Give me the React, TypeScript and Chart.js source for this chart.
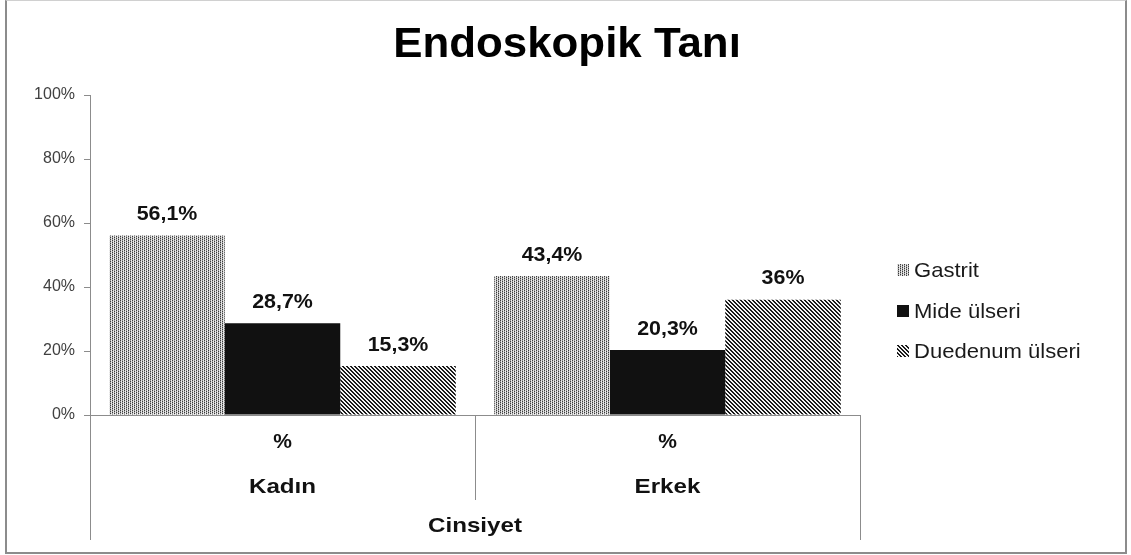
import React, { useEffect, useRef } from "react";
import { Chart, registerables } from "chart.js";

Chart.register(...registerables);

const chartTitle = "Endoskopik Tanı";
const categories = ["Kadın", "Erkek"];
const subLabel = "%";
const axisTitle = "Cinsiyet";
const seriesNames = ["Gastrit", "Mide ülseri", "Duedenum ülseri"];
const gastrit = [56.1, 43.4];
const mideUlseri = [28.7, 20.3];
const duedenumUlseri = [15.3, 36];
const yTicks = [0, 20, 40, 60, 80, 100];

const FONT = "'Liberation Sans', Arial, sans-serif";

function makeTile(w: number, h: number, fn: (x: number, y: number) => string) {
  const c = document.createElement("canvas");
  c.width = w;
  c.height = h;
  const ctx = c.getContext("2d")!;
  for (let y = 0; y < h; y++) {
    for (let x = 0; x < w; x++) {
      ctx.fillStyle = fn(x, y);
      ctx.fillRect(x, y, 1, 1);
    }
  }
  return ctx.createPattern(c, "repeat")!;
}

function stretchText(ctx: CanvasRenderingContext2D, txt: string, x: number, y: number, sx: number) {
  ctx.save();
  ctx.translate(x, y);
  ctx.scale(sx, 1);
  ctx.fillText(txt, 0, 0);
  ctx.restore();
}

export default function App() {
  const ref = useRef<HTMLCanvasElement | null>(null);

  useEffect(() => {
    if (!ref.current) return;
    const dotted = makeTile(4, 2, (x, y) => {
      const rows = [
        ["#3a3a3a", "#dcdcdc", "#a0a0a0", "#efefef"],
        ["#a0a0a0", "#efefef", "#3a3a3a", "#dcdcdc"],
      ];
      return rows[y][x];
    });
    const striped = makeTile(4, 4, (x, y) =>
      (((x - y) % 4) + 4) % 4 < 2 ? "#1a1a1a" : "#f4f4f4"
    );
    const fills = [dotted, "#111111", striped];
    const values = [gastrit, mideUlseri, duedenumUlseri];

    const decor = {
      id: "decor",
      afterDraw(chart: any) {
        const ctx = chart.ctx;
        const area = chart.chartArea;
        const xs = chart.scales.x;
        ctx.save();
        // title
        ctx.fillStyle = "#000";
        ctx.font = `bold 43px ${FONT}`;
        ctx.textAlign = "center";
        ctx.textBaseline = "alphabetic";
        stretchText(ctx, chartTitle, 567, 57, 1.02);

        // data labels
        ctx.font = `bold 20px ${FONT}`;
        ctx.fillStyle = "#111";
        ctx.textBaseline = "middle";
        chart.data.datasets.forEach((ds: any, i: number) => {
          const meta = chart.getDatasetMeta(i);
          meta.data.forEach((el: any, j: number) => {
            const v = ds.data[j];
            const txt = String(v).replace(".", ",") + "%";
            stretchText(ctx, txt, el.x, el.y - 21, 1.07);
          });
        });

        // category axis structure
        ctx.strokeStyle = "#8c8c8c";
        ctx.lineWidth = 1;
        const p0 = xs.getPixelForValue(0);
        const p1 = xs.getPixelForValue(1);
        const mid = Math.round((p0 + p1) / 2) + 0.5;
        ctx.beginPath();
        ctx.moveTo(Math.round(area.left) + 0.5, area.bottom);
        ctx.lineTo(Math.round(area.left) + 0.5, 540);
        ctx.moveTo(Math.round(area.right) + 0.5, area.bottom);
        ctx.lineTo(Math.round(area.right) + 0.5, 540);
        ctx.moveTo(mid, area.bottom);
        ctx.lineTo(mid, 500);
        ctx.stroke();

        ctx.fillStyle = "#111";
        ctx.font = `bold 21px ${FONT}`;
        categories.forEach((c, j) => {
          const px = xs.getPixelForValue(j);
          stretchText(ctx, subLabel, px, 442, 1.0);
          stretchText(ctx, c, px, 487, 1.15);
        });
        stretchText(ctx, axisTitle, (area.left + area.right) / 2, 526, 1.15);

        // legend
        ctx.textAlign = "left";
        ctx.font = `21px ${FONT}`;
        const ly = [270, 311, 351];
        seriesNames.forEach((n, i) => {
          ctx.fillStyle = fills[i] as any;
          ctx.fillRect(897, ly[i] - 6, 12, 12);
          ctx.fillStyle = "#1a1a1a";
          stretchText(ctx, n, 914, ly[i] + 1, 1.05);
        });
        ctx.restore();
      },
    };

    const chart = new Chart(ref.current, {
      type: "bar",
      data: {
        labels: categories,
        datasets: seriesNames.map((n, i) => ({
          label: n,
          data: values[i],
          backgroundColor: fills[i] as any,
          borderWidth: 0,
          barPercentage: 1,
          categoryPercentage: 0.9,
        })),
      },
      options: {
        responsive: false,
        animation: false,
        events: [],
        layout: { padding: { left: 0, right: 271, top: 95, bottom: 0 } },
        plugins: {
          legend: { display: false },
          title: { display: false },
          tooltip: { enabled: false },
        },
        scales: {
          x: {
            ticks: { display: false },
            grid: { display: false, drawTicks: false },
            border: { display: true, color: "#8c8c8c", width: 1 },
            afterFit: (s: any) => {
              s.height = 140;
            },
          },
          y: {
            min: 0,
            max: 100,
            afterBuildTicks: (s: any) => {
              s.ticks = yTicks.map((v) => ({ value: v }));
            },
            ticks: {
              callback: (v: any) => v + "%",
              font: { family: FONT, size: 16 },
              color: "#404040",
              padding: 9,
            },
            grid: {
              drawOnChartArea: false,
              drawTicks: true,
              tickLength: 6,
              color: "#8c8c8c",
            },
            border: { display: true, color: "#8c8c8c", width: 1 },
            afterFit: (s: any) => {
              s.width = 90;
            },
          },
        },
      },
      plugins: [decor],
    });
    return () => chart.destroy();
  }, []);

  return (
    <div
      style={{
        position: "absolute",
        left: 0,
        top: 0,
        width: 1131,
        height: 555,
        background: "#fff",
      }}
    >
      <canvas ref={ref} width={1131} height={555} style={{ display: "block" }} />
      <div
        style={{
          position: "absolute",
          left: 5,
          top: 0,
          width: 1118,
          height: 551,
          borderLeft: "2px solid #8c8c8c",
          borderRight: "2px solid #8c8c8c",
          borderBottom: "2px solid #8c8c8c",
          borderTop: "1px solid #d0d0d0",
          pointerEvents: "none",
        }}
      />
    </div>
  );
}
